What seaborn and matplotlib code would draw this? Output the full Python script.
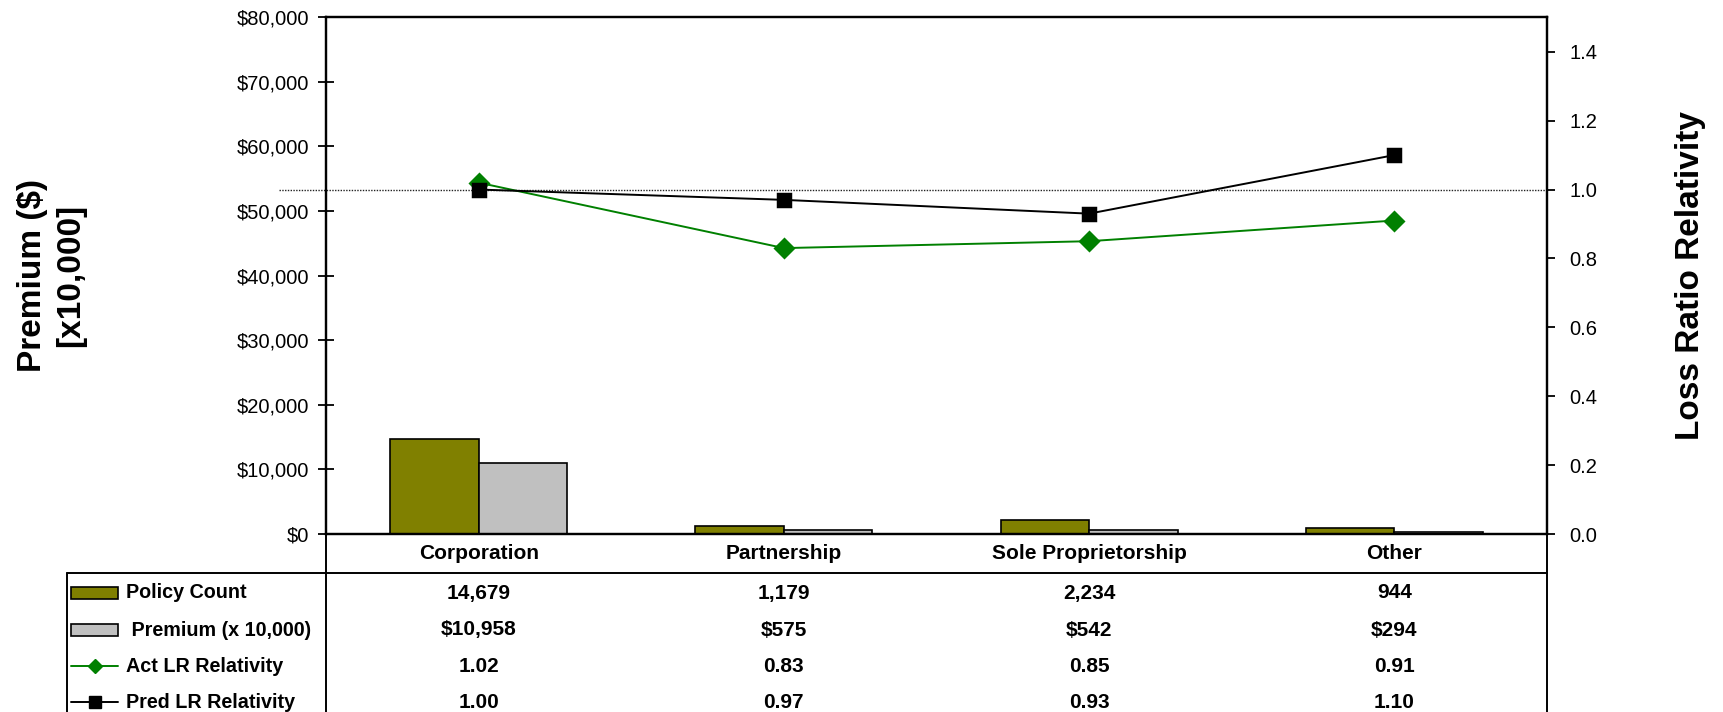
import numpy as np
import pandas as pd
import matplotlib
matplotlib.use("Agg")
import matplotlib.pyplot as plt
import matplotlib.ticker as mticker
from matplotlib.lines import Line2D
from matplotlib.patches import Rectangle
from matplotlib.transforms import blended_transform_factory
import seaborn as sns

# ---- data -------------------------------------------------------------
categories = ["Corporation", "Partnership", "Sole Proprietorship", "Other"]
policy_count = [14679, 1179, 2234, 944]
premium = [10958, 575, 542, 294]
act_lr = [1.02, 0.83, 0.85, 0.91]
pred_lr = [1.00, 0.97, 0.93, 1.10]

premium_ticks = [0, 10000, 20000, 30000, 40000, 50000, 60000, 70000, 80000]
lr_ticks = [0.0, 0.2, 0.4, 0.6, 0.8, 1.0, 1.2, 1.4]

series_names = ["Policy Count", " Premium (x 10,000)", "Act LR Relativity", "Pred LR Relativity"]

OLIVE = "#808000"
SILVER = "#C0C0C0"
GREEN = "#008000"
BLACK = "#000000"

# ---- style ------------------------------------------------------------
sns.set_theme(style="white")
plt.rcParams["font.family"] = ["Liberation Sans", "DejaVu Sans"]
plt.rcParams.update({
    "text.color": "black",
    "axes.labelcolor": "black",
    "xtick.color": "black",
    "ytick.color": "black",
    "axes.edgecolor": "black",
})

W, H = 1723, 712
fig = plt.figure(figsize=(W / 100, H / 100), dpi=100)


def fx(px):
    return px / W


def fy(py):
    return 1 - py / H


x_left, x_right, y_top, y_bot = 326, 1547, 17.3, 534
ax = fig.add_axes([fx(x_left), fy(y_bot), fx(x_right) - fx(x_left), fy(y_top) - fy(y_bot)])
span = x_right - x_left

# ---- bars on the premium axis -----------------------------------------
bars_df = pd.DataFrame({
    "category": categories * 2,
    "value": policy_count + premium,
    "series": [series_names[0]] * len(categories) + [series_names[1]] * len(categories),
})
sns.barplot(data=bars_df, x="category", y="value", hue="series",
            palette=[OLIVE, SILVER], width=0.58, gap=0, saturation=1,
            edgecolor="black", linewidth=1.2, legend=False, ax=ax)

ax.set_ylim(0, 80000)
ax.set_yticks(premium_ticks)
ax.yaxis.set_major_formatter(mticker.FuncFormatter(lambda v, p: f"${v:,.0f}"))
ax.tick_params(axis="y", left=True, direction="inout", length=12, width=1.3,
               labelsize=14.5, pad=6, colors="black")
ax.tick_params(axis="x", bottom=False, length=0, pad=7, colors="black")
for lab in ax.get_xticklabels():
    lab.set_fontweight("bold")
    lab.set_fontsize(15)
    lab.set_color("black")
ax.set_xlabel("")
ax.set_ylabel("Premium ($)\n[x10,000]", fontsize=24, fontweight="bold",
              linespacing=1.3, multialignment="center", color="black")
ax.yaxis.label.set_va("center")
ax.yaxis.set_label_coords((52 - x_left) / span, 0.5)
for s in ax.spines.values():
    s.set_color("black")
    s.set_linewidth(1.6)

# ---- relativity lines on the secondary axis ---------------------------
ax2 = ax.twinx()
ax2.axhline(1.0, xmin=(279 - x_left) / span, xmax=1, clip_on=False,
            color="#222222", lw=1.0, ls=(0, (1, 1)), zorder=1)
sns.pointplot(x=categories, y=act_lr, ax=ax2, color=GREEN, markers="D",
              markersize=10, linewidth=1.4, errorbar=None)
sns.pointplot(x=categories, y=pred_lr, ax=ax2, color=BLACK, markers="s",
              markersize=9.5, linewidth=1.4, errorbar=None)
ax2.set_ylim(0, 1.5)
ax2.set_yticks(lr_ticks)
ax2.yaxis.set_major_formatter(mticker.FormatStrFormatter("%.1f"))
ax2.tick_params(axis="y", right=True, direction="out", length=6, width=1.3,
                labelsize=14.5, pad=10, colors="black")
ax2.set_ylabel("Loss Ratio Relativity", fontsize=24, fontweight="bold", color="black")
ax2.yaxis.label.set_va("center")
ax2.yaxis.set_label_coords((1690 - x_left) / span, 0.5)
for s in ax2.spines.values():
    s.set_color("black")
    s.set_linewidth(1.6)

# ---- data table under the plot ----------------------------------------
line_kw = dict(transform=fig.transFigure, color="black", lw=1.4)
fig.add_artist(Line2D([fx(x_left)] * 2, [0, fy(y_bot)], **line_kw))
fig.add_artist(Line2D([fx(x_right)] * 2, [0, fy(y_bot)], **line_kw))
fig.add_artist(Line2D([fx(67), fx(x_right)], [fy(573)] * 2, **line_kw))
fig.add_artist(Line2D([fx(67)] * 2, [0, fy(573)], **line_kw))

row_px = [593, 630, 666, 702]
row_values = [
    [f"{v:,}" for v in policy_count],
    [f"${v:,}" for v in premium],
    [f"{v:.2f}" for v in act_lr],
    [f"{v:.2f}" for v in pred_lr],
]
cell_tf = blended_transform_factory(ax.transData, fig.transFigure)
for r, (ypx, vals) in enumerate(zip(row_px, row_values)):
    for i, txt in enumerate(vals):
        ax.text(i, fy(ypx), txt, transform=cell_tf, ha="center", va="center",
                fontsize=15, fontweight="bold", color="black", clip_on=False)
    fig.text(fx(126), fy(ypx), series_names[r], ha="left", va="center",
             fontsize=14.2, fontweight="bold", color="black")

# legend keys in the first column
sw_x0, sw_x1 = 71, 118
for r, color in enumerate([OLIVE, SILVER]):
    fig.add_artist(Rectangle((fx(sw_x0), fy(row_px[r] + 6)), fx(sw_x1) - fx(sw_x0),
                             fy(row_px[r] - 6) - fy(row_px[r] + 6),
                             transform=fig.transFigure, facecolor=color,
                             edgecolor="black", lw=1.2))
for r, (color, mk, ms) in zip([2, 3], [(GREEN, "D", 7), (BLACK, "s", 8.5)]):
    fig.add_artist(Line2D([fx(sw_x0), fx(sw_x1)], [fy(row_px[r])] * 2,
                          transform=fig.transFigure, color=color, lw=1.4))
    fig.add_artist(Line2D([fx((sw_x0 + sw_x1) / 2)], [fy(row_px[r])],
                          transform=fig.transFigure, color=color, marker=mk,
                          markersize=ms, lw=0))

fig.savefig("out.png", dpi=100, facecolor="white")
